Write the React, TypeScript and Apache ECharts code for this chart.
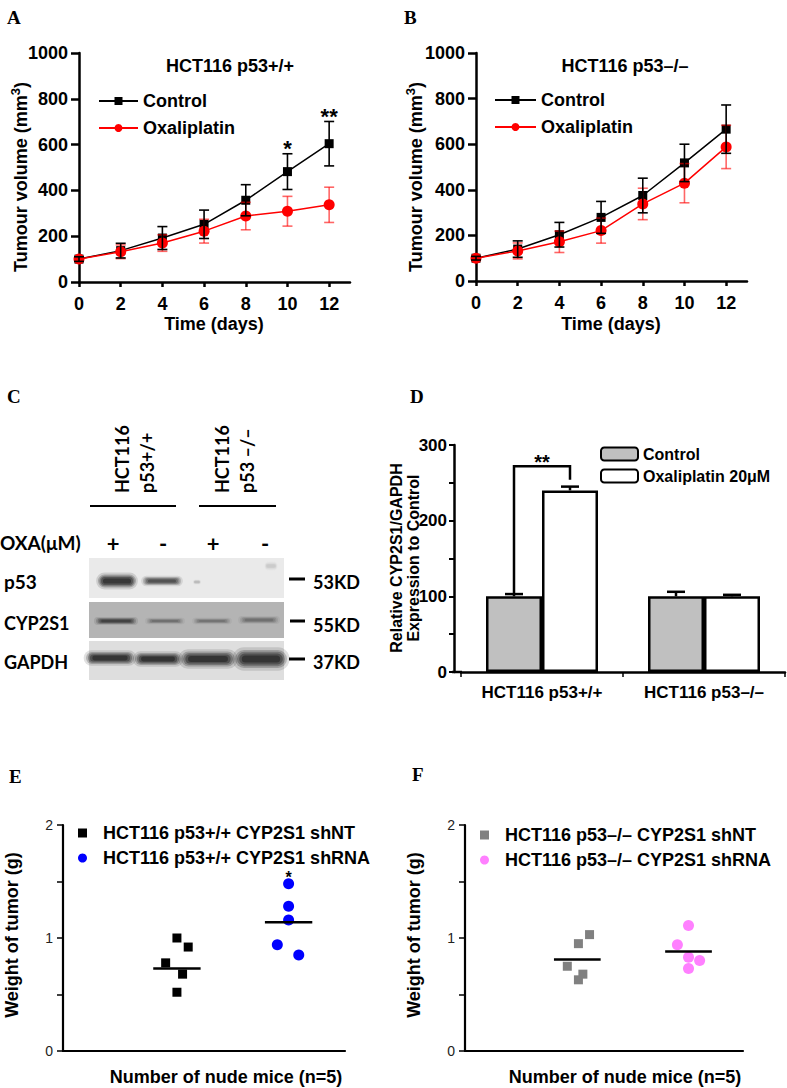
import React, { useEffect, useRef } from 'react';
import * as echarts from 'echarts';

// ---------- DATA ----------
const days = [0, 2, 4, 6, 8, 10, 12];
const volumeTicks = [0, 200, 400, 600, 800, 1000];

const aControl = [100, 137, 192, 252, 357, 482, 604];
const aControlErr = [10, 32, 50, 62, 68, 78, 97];
const aOxali = [100, 132, 170, 222, 288, 309, 337];
const aOxaliErr = [8, 30, 36, 52, 60, 65, 77];
const aSig = [[10, 585, '*'], [12, 722, '**']];

const bControl = [100, 140, 203, 279, 375, 518, 666];
const bControlErr = [8, 36, 54, 70, 76, 82, 106];
const bOxali = [100, 132, 172, 221, 338, 429, 588];
const bOxaliErr = [8, 35, 47, 55, 69, 86, 95];

const dCategories = ['HCT116 p53+/+', 'HCT116 p53–/–'];
const dControl = [100, 100];
const dControlErr = [3, 6];
const dOxali = [240, 100];
const dOxaliErr = [5, 2];
const dBracket = [272, 104, 254, 277]; // top, left leg end, right leg end, star level

const eShNTx = [1.01, 1.11, 0.91, 1.06, 1.01];
const eShNT = [1.0, 0.92, 0.78, 0.68, 0.52];
const eShRNAx = [2.0, 2.0, 2.0, 1.9, 2.09];
const eShRNA = [1.48, 1.28, 1.16, 0.94, 0.85];
const eMeans = [[1.01, 0.73], [2.0, 1.14]];
const eSig = [[2.0, 1.535, '*']];

const fShNTx = [1.12, 1.02, 0.92, 1.06, 1.02];
const fShNT = [1.03, 0.95, 0.75, 0.68, 0.63];
const fShRNAx = [2.01, 1.91, 2.01, 2.11, 2.01];
const fShRNA = [1.11, 0.94, 0.83, 0.8, 0.73];
const fMeans = [[1.01, 0.81], [2.01, 0.88]];

// ---------- HELPERS ----------
const SANS = 'Liberation Sans';
const SERIF = 'Liberation Serif';
const CFONT = 'Lato';

function errorBars(idx: number, xs: number[], ys: number[], errs: number[], color: string, z: number) {
  return {
    type: 'custom',
    xAxisIndex: idx,
    yAxisIndex: idx,
    z,
    silent: true,
    data: xs.map((x, i) => [x, ys[i], errs[i]]),
    renderItem: (_p: any, api: any) => {
      const x = api.value(0), y = api.value(1), e = api.value(2);
      const t = api.coord([x, y + e]);
      const b = api.coord([x, y - e]);
      const st = { stroke: color, lineWidth: 1.6 };
      return {
        type: 'group',
        children: [
          { type: 'line', shape: { x1: t[0], y1: t[1], x2: b[0], y2: b[1] }, style: st },
          { type: 'line', shape: { x1: t[0] - 5, y1: t[1], x2: t[0] + 5, y2: t[1] }, style: st },
          { type: 'line', shape: { x1: b[0] - 5, y1: b[1], x2: b[0] + 5, y2: b[1] }, style: st },
        ],
      };
    },
  };
}

function meanLines(idx: number, means: number[][]) {
  return {
    type: 'custom',
    xAxisIndex: idx,
    yAxisIndex: idx,
    z: 5,
    silent: true,
    data: means,
    renderItem: (_p: any, api: any) => {
      const x = api.value(0), m = api.value(1);
      const a = api.coord([x - 0.21, m]);
      const b = api.coord([x + 0.21, m]);
      return { type: 'line', shape: { x1: a[0], y1: a[1], x2: b[0], y2: b[1] }, style: { stroke: '#000', lineWidth: 2.5 } };
    },
  };
}

function sigLabels(idx: number, data: any[], size: number, lh?: number) {
  return {
    type: 'scatter',
    xAxisIndex: idx,
    yAxisIndex: idx,
    symbolSize: 0,
    silent: true,
    z: 6,
    itemStyle: { opacity: 1, color: '#000' },
    data: data.map((d) => ({ value: [d[0], d[1]], label: { formatter: d[2] } })),
    label: {
      show: true, position: 'inside', color: '#000', opacity: 1, fontSize: size, fontWeight: 'bold', fontFamily: SANS,
      lineHeight: lh,
    },
  };
}

function txt(x: number, y: number, text: string, o: any = {}) {
  const align = o.align || 'center';
  const va = o.va || 'middle';
  return {
    type: 'text',
    x,
    y,
    rotation: o.rotation || 0,
    silent: true,
    style: {
      text,
      fill: o.color || '#000',
      fontSize: o.size || 18,
      fontWeight: o.weight || 'bold',
      fontFamily: o.family || SANS,
      align,
      verticalAlign: va,
      textAlign: align,
      textVerticalAlign: va,
      rich: o.rich,
    },
  };
}

// soft blot band built from stacked, translucent rounded rectangles
function band(cx: number, cy: number, w: number, h: number, color: string, a: number) {
  const layers = [
    [1.1, 1.3, 0.12],
    [1.0, 1.0, 0.2],
    [0.92, 0.8, 0.25],
    [0.84, 0.6, 0.3],
    [0.74, 0.4, 0.35],
  ];
  return layers.map(([sw, sh, op]) => {
    const ww = w * sw, hh = h * sh;
    return {
      type: 'rect',
      silent: true,
      shape: { x: cx - ww / 2, y: cy - hh / 2, width: ww, height: hh, r: hh / 2 },
      style: { fill: color, opacity: op * a },
    };
  });
}

function hline(x1: number, x2: number, y: number, w: number) {
  return { type: 'line', silent: true, shape: { x1, y1: y, x2, y2: y }, style: { stroke: '#000', lineWidth: w } };
}

const SUP = '{a|Tumour volume (mm}{s|3}{a|)}';
const supRich = {
  a: { fontSize: 18, fontWeight: 'bold', fontFamily: SANS, lineHeight: 24, fill: '#000', color: '#000' },
  s: { fontSize: 13, fontWeight: 'bold', fontFamily: SANS, lineHeight: 13, verticalAlign: 'top', fill: '#000', color: '#000' },
};

// ---------- AXES ----------
function volX(idx: number) {
  return {
    gridIndex: idx,
    type: 'value',
    min: 0,
    max: 13,
    splitLine: { show: false },
    axisLine: { show: true, onZero: false, lineStyle: { color: '#000', width: 2.5 } },
    axisTick: { show: true, customValues: days, length: 5, lineStyle: { width: 2.5, color: '#000' } },
    axisLabel: { show: true, customValues: days, margin: 13, fontSize: 18, fontWeight: 'bold', color: '#000', fontFamily: SANS },
  };
}
function volY(idx: number) {
  return {
    gridIndex: idx,
    type: 'value',
    min: 0,
    max: 1000,
    interval: 200,
    splitLine: { show: false },
    axisLine: { show: true, lineStyle: { color: '#000', width: 2.5 } },
    axisTick: { show: true, customValues: volumeTicks, length: 8, lineStyle: { width: 2.5, color: '#000' } },
    axisLabel: {
      margin: 11, fontSize: 18, fontWeight: 'bold', color: '#000', fontFamily: SANS,
      formatter: (v: number) => String(v),
    },
  };
}
function wX(idx: number) {
  return {
    gridIndex: idx,
    type: 'value',
    min: 0,
    max: 2.5,
    splitLine: { show: false },
    axisLine: { show: true, onZero: false, lineStyle: { color: '#000', width: 2.2 } },
    axisTick: { show: false },
    axisLabel: { show: false },
  };
}
function wY(idx: number) {
  return {
    gridIndex: idx,
    type: 'value',
    min: 0,
    max: 2,
    interval: 0.5,
    splitLine: { show: false },
    axisLine: { show: true, lineStyle: { color: '#000', width: 2.2 } },
    axisTick: { show: true, length: 6, lineStyle: { width: 1.5, color: '#000' } },
    axisLabel: {
      margin: 10,
      fontSize: 14,
      color: '#222',
      fontFamily: SANS,
      formatter: (v: number) => (v % 1 === 0 ? String(v) : ''),
    },
  };
}

function lineSeries(idx: number, name: string, ys: number[], color: string, symbol: string, size: number) {
  return {
    type: 'line',
    name,
    xAxisIndex: idx,
    yAxisIndex: idx,
    data: days.map((d, i) => [d, ys[i]]),
    symbol,
    symbolSize: size,
    showSymbol: true,
    z: 3,
    itemStyle: { color },
    lineStyle: { color, width: 1.5 },
  };
}

function scatterSeries(idx: number, name: string, xs: number[], ys: number[], color: string, symbol: string, size: number) {
  return {
    type: 'scatter',
    name,
    xAxisIndex: idx,
    yAxisIndex: idx,
    data: xs.map((x, i) => [x, ys[i]]),
    symbol,
    symbolSize: size,
    z: 4,
    itemStyle: { color, opacity: 1 },
  };
}

// ---------- PANEL C (western blot image) ----------
const lanes = [113, 163, 213, 265];
const cGraphics: any[] = [
  txt(7, 387, 'C', { family: SERIF, size: 19, align: 'left', va: 'top' }),
  txt(122, 493, 'HCT116', { rotation: Math.PI / 2, align: 'left', family: CFONT, size: 18 }),
  txt(147, 493, 'p53+/+', { rotation: Math.PI / 2, align: 'left', family: CFONT, size: 18 }),
  txt(222, 493, 'HCT116', { rotation: Math.PI / 2, align: 'left', family: CFONT, size: 18 }),
  txt(247, 493, 'p53 –/–', { rotation: Math.PI / 2, align: 'left', family: CFONT, size: 18 }),
  hline(90, 176, 506, 2),
  hline(199, 276, 506, 2),
  txt(0, 542, 'OXA(μM)', { align: 'left', family: CFONT, size: 19 }),
  txt(lanes[0], 543, '+', { family: CFONT, size: 22 }),
  txt(lanes[1], 543, '-', { family: CFONT, size: 22 }),
  txt(lanes[2], 543, '+', { family: CFONT, size: 22 }),
  txt(lanes[3], 543, '-', { family: CFONT, size: 22 }),
  { type: 'rect', silent: true, shape: { x: 89, y: 558, width: 195, height: 40 }, style: { fill: '#eaeaea' } },
  { type: 'rect', silent: true, shape: { x: 89, y: 602, width: 195, height: 36 }, style: { fill: '#b4b4b4' } },
  { type: 'rect', silent: true, shape: { x: 89, y: 641, width: 195, height: 39 }, style: { fill: '#dedede' } },
  ...band(117, 581, 38, 13, '#000', 1),
  ...band(162, 581, 38, 8, '#111', 0.85),
  ...band(197, 582, 7, 4, '#888', 0.5),
  ...band(271, 566, 12, 7, '#999', 0.35),
  ...band(116, 621, 40, 6, '#111', 0.85),
  ...band(165, 621, 36, 5, '#333', 0.55),
  ...band(212, 621, 36, 5, '#333', 0.5),
  ...band(259, 620, 38, 6, '#333', 0.55),
  ...band(110, 658, 48, 12, '#000', 1),
  ...band(158, 659, 46, 12, '#000', 1),
  ...band(208, 659, 54, 15, '#000', 1),
  ...band(261, 659, 52, 18, '#000', 1),
  txt(4, 581, 'p53', { align: 'left', family: CFONT, size: 19 }),
  txt(4, 623, 'CYP2S1', { align: 'left', family: CFONT, size: 18 }),
  txt(4, 662, 'GAPDH', { align: 'left', family: CFONT, size: 18 }),
  hline(289, 305, 579, 3),
  hline(290, 305, 621, 3),
  hline(289, 305, 659, 3),
  txt(313, 582, '53KD', { align: 'left', family: CFONT, size: 18 }),
  txt(313, 625, '55KD', { align: 'left', family: CFONT, size: 18 }),
  txt(313, 662, '37KD', { align: 'left', family: CFONT, size: 18 }),
];

const otherGraphics: any[] = [
  txt(7, 8, 'A', { family: SERIF, size: 19, align: 'left', va: 'top' }),
  txt(404, 8, 'B', { family: SERIF, size: 19, align: 'left', va: 'top' }),
  txt(410, 387, 'D', { family: SERIF, size: 19, align: 'left', va: 'top' }),
  txt(9, 767, 'E', { family: SERIF, size: 19, align: 'left', va: 'top' }),
  txt(412, 765, 'F', { family: SERIF, size: 19, align: 'left', va: 'top' }),
  txt(230, 66, 'HCT116 p53+/+'),
  txt(625, 66, 'HCT116 p53–/–'),
  txt(21, 177, SUP, { rotation: Math.PI / 2, rich: supRich }),
  txt(416, 177, SUP, { rotation: Math.PI / 2, rich: supRich }),
  txt(214, 324, 'Time (days)'),
  txt(611, 324, 'Time (days)'),
  txt(396, 558, 'Relative CYP2S1/GAPDH', { rotation: Math.PI / 2, size: 16 }),
  txt(413, 558, 'Expression to Control', { rotation: Math.PI / 2, size: 16 }),
  hline(452, 462, 672, 2.5),
  txt(12, 935, 'Weight of tumor (g)', { rotation: Math.PI / 2 }),
  txt(414, 935, 'Weight of tumor (g)', { rotation: Math.PI / 2 }),
  txt(226, 1077, 'Number of nude mice (n=5)'),
  txt(625, 1077, 'Number of nude mice (n=5)'),
];

const legendText = { fontSize: 18, fontWeight: 'bold', color: '#000', fontFamily: SANS };

export default function App() {
  const ref = useRef<HTMLDivElement>(null);
  useEffect(() => {
    if (!ref.current) return;
    const chart = echarts.init(ref.current, undefined, { renderer: 'svg' });
    const option: any = {
      animation: false,
      backgroundColor: '#fff',
      textStyle: { fontFamily: SANS },
      grid: [
        { left: 79, top: 53, width: 271, height: 229 },
        { left: 476, top: 53, width: 271, height: 228 },
        { left: 461, top: 445, width: 324, height: 227 },
        { left: 63, top: 825, width: 282, height: 226 },
        { left: 465, top: 825, width: 278, height: 226 },
      ],
      xAxis: [
        volX(0),
        volX(1),
        {
          gridIndex: 2,
          type: 'category',
          data: dCategories,
          axisLine: { show: true, lineStyle: { color: '#000', width: 2.5 } },
          axisTick: { show: true, length: 5, lineStyle: { width: 1.5, color: '#000' } },
          axisLabel: { margin: 12, fontSize: 17, fontWeight: 'bold', color: '#000', fontFamily: SANS },
        },
        wX(3),
        wX(4),
      ],
      yAxis: [
        volY(0),
        volY(1),
        {
          gridIndex: 2,
          type: 'value',
          min: 0,
          max: 300,
          interval: 50,
          offset: 7,
          splitLine: { show: false },
          axisLine: { show: true, lineStyle: { color: '#000', width: 2.5 } },
          axisTick: { show: true, length: 5, lineStyle: { width: 2, color: '#000' } },
          axisLabel: {
            margin: 7,
            fontSize: 17,
            fontWeight: 'bold',
            color: '#000',
            fontFamily: SANS,
            formatter: (v: number) => (v % 100 === 0 ? String(v) : ''),
          },
        },
        wY(3),
        wY(4),
      ],
      legend: [
        {
          data: ['Control', 'Oxaliplatin'], padding: 0,
          left: 98, top: 92, orient: 'vertical', itemWidth: 39, itemHeight: 10, itemGap: 9,
          textStyle: legendText, selectedMode: false,
        },
        {
          data: ['Control', 'Oxaliplatin'], padding: 0,
          left: 494, top: 91, orient: 'vertical', itemWidth: 41, itemHeight: 10, itemGap: 9,
          textStyle: legendText, selectedMode: false,
        },
        {
          data: ['dControl', 'dOxali'], padding: 0,
          formatter: (n: string) => (n === 'dControl' ? 'Control' : 'Oxaliplatin 20μM'),
          left: 600, top: 446, orient: 'vertical', itemWidth: 37, itemHeight: 13, itemGap: 6,
          textStyle: { ...legendText, fontSize: 16 }, selectedMode: false,
        },
        {
          data: ['HCT116 p53+/+ CYP2S1 shNT', 'HCT116 p53+/+ CYP2S1 shRNA'], padding: 0,
          left: 78, top: 824, orient: 'vertical', itemWidth: 9, itemHeight: 9, itemGap: 7,
          textStyle: { ...legendText, lineHeight: 16, padding: [0, 0, 0, 11] }, selectedMode: false,
        },
        {
          data: ['HCT116 p53–/– CYP2S1 shNT', 'HCT116 p53–/– CYP2S1 shRNA'], padding: 0,
          left: 480, top: 826, orient: 'vertical', itemWidth: 9, itemHeight: 9, itemGap: 7,
          textStyle: { ...legendText, lineHeight: 16, padding: [0, 0, 0, 11] }, selectedMode: false,
        },
      ],
      series: [
        // A
        lineSeries(0, 'Control', aControl, '#000', 'rect', 9),
        lineSeries(0, 'Oxaliplatin', aOxali, '#ff0000', 'circle', 11),
        errorBars(0, days, aOxali, aOxaliErr, 'rgba(255,0,0,0.6)', 4),
        errorBars(0, days, aControl, aControlErr, '#000', 5),
        sigLabels(0, aSig, 22),
        // B
        lineSeries(1, 'Control', bControl, '#000', 'rect', 9),
        lineSeries(1, 'Oxaliplatin', bOxali, '#ff0000', 'circle', 11),
        errorBars(1, days, bOxali, bOxaliErr, 'rgba(255,0,0,0.6)', 4),
        errorBars(1, days, bControl, bControlErr, '#000', 5),
        // D
        {
          type: 'bar', name: 'dControl', xAxisIndex: 2, yAxisIndex: 2, data: dControl,
          barWidth: 56, barGap: '0%',
          itemStyle: { color: '#c0c0c0', borderColor: '#000', borderWidth: 2.5 },
        },
        {
          type: 'bar', name: 'dOxali', xAxisIndex: 2, yAxisIndex: 2, data: dOxali,
          barWidth: 56, barGap: '0%',
          itemStyle: { color: '#ffffff', borderColor: '#000', borderWidth: 2.5 },
        },
        {
          type: 'custom', xAxisIndex: 2, yAxisIndex: 2, z: 5, silent: true,
          data: [
            ...dControl.map((v, i) => [i, v, dControlErr[i], -1]),
            ...dOxali.map((v, i) => [i, v, dOxaliErr[i], 1]),
          ],
          renderItem: (_p: any, api: any) => {
            const c = api.value(0), v = api.value(1), e = api.value(2), s = api.value(3);
            const b = api.coord([c, v]);
            const t = api.coord([c, v + e]);
            const x = b[0] + s * 28;
            const st = { stroke: '#000', lineWidth: 2.5 };
            return {
              type: 'group',
              children: [
                { type: 'line', shape: { x1: x, y1: b[1], x2: x, y2: t[1] }, style: st },
                { type: 'line', shape: { x1: x - 9, y1: t[1], x2: x + 9, y2: t[1] }, style: st },
              ],
            };
          },
        },
        {
          type: 'custom', xAxisIndex: 2, yAxisIndex: 2, z: 5, silent: true,
          data: [[0, ...dBracket]],
          renderItem: (_p: any, api: any) => {
            const c = api.value(0);
            const top = api.coord([c, api.value(1)]);
            const l = api.coord([c, api.value(2)]);
            const r = api.coord([c, api.value(3)]);
            const s = api.coord([c, api.value(4)]);
            const xl = top[0] - 28, xr = top[0] + 28;
            const st = { stroke: '#000', lineWidth: 2.5 };
            return {
              type: 'group',
              children: [
                { type: 'polyline', shape: { points: [[xl, l[1]], [xl, top[1]], [xr, top[1]], [xr, r[1]]] }, style: { ...st, fill: 'none' } },
                { type: 'text', x: top[0], y: s[1], style: { text: '**', fontSize: 20, fontWeight: 'bold', fontFamily: SANS, fill: '#000', align: 'center', verticalAlign: 'middle' } },
              ],
            };
          },
        },
        // E
        scatterSeries(3, 'HCT116 p53+/+ CYP2S1 shNT', eShNTx, eShNT, '#000000', 'rect', 9),
        scatterSeries(3, 'HCT116 p53+/+ CYP2S1 shRNA', eShRNAx, eShRNA, '#0000ff', 'circle', 11),
        meanLines(3, eMeans),
        sigLabels(3, eSig, 16, 14),
        // F
        scatterSeries(4, 'HCT116 p53–/– CYP2S1 shNT', fShNTx, fShNT, '#808080', 'rect', 9),
        scatterSeries(4, 'HCT116 p53–/– CYP2S1 shRNA', fShRNAx, fShRNA, '#ff80ff', 'circle', 11),
        meanLines(4, fMeans),
      ],
      graphic: [...cGraphics, ...otherGraphics],
    };
    chart.setOption(option);
    return () => chart.dispose();
  }, []);
  return <div ref={ref} style={{ position: 'absolute', left: 0, top: 0, width: 787, height: 1088 }} />;
}
